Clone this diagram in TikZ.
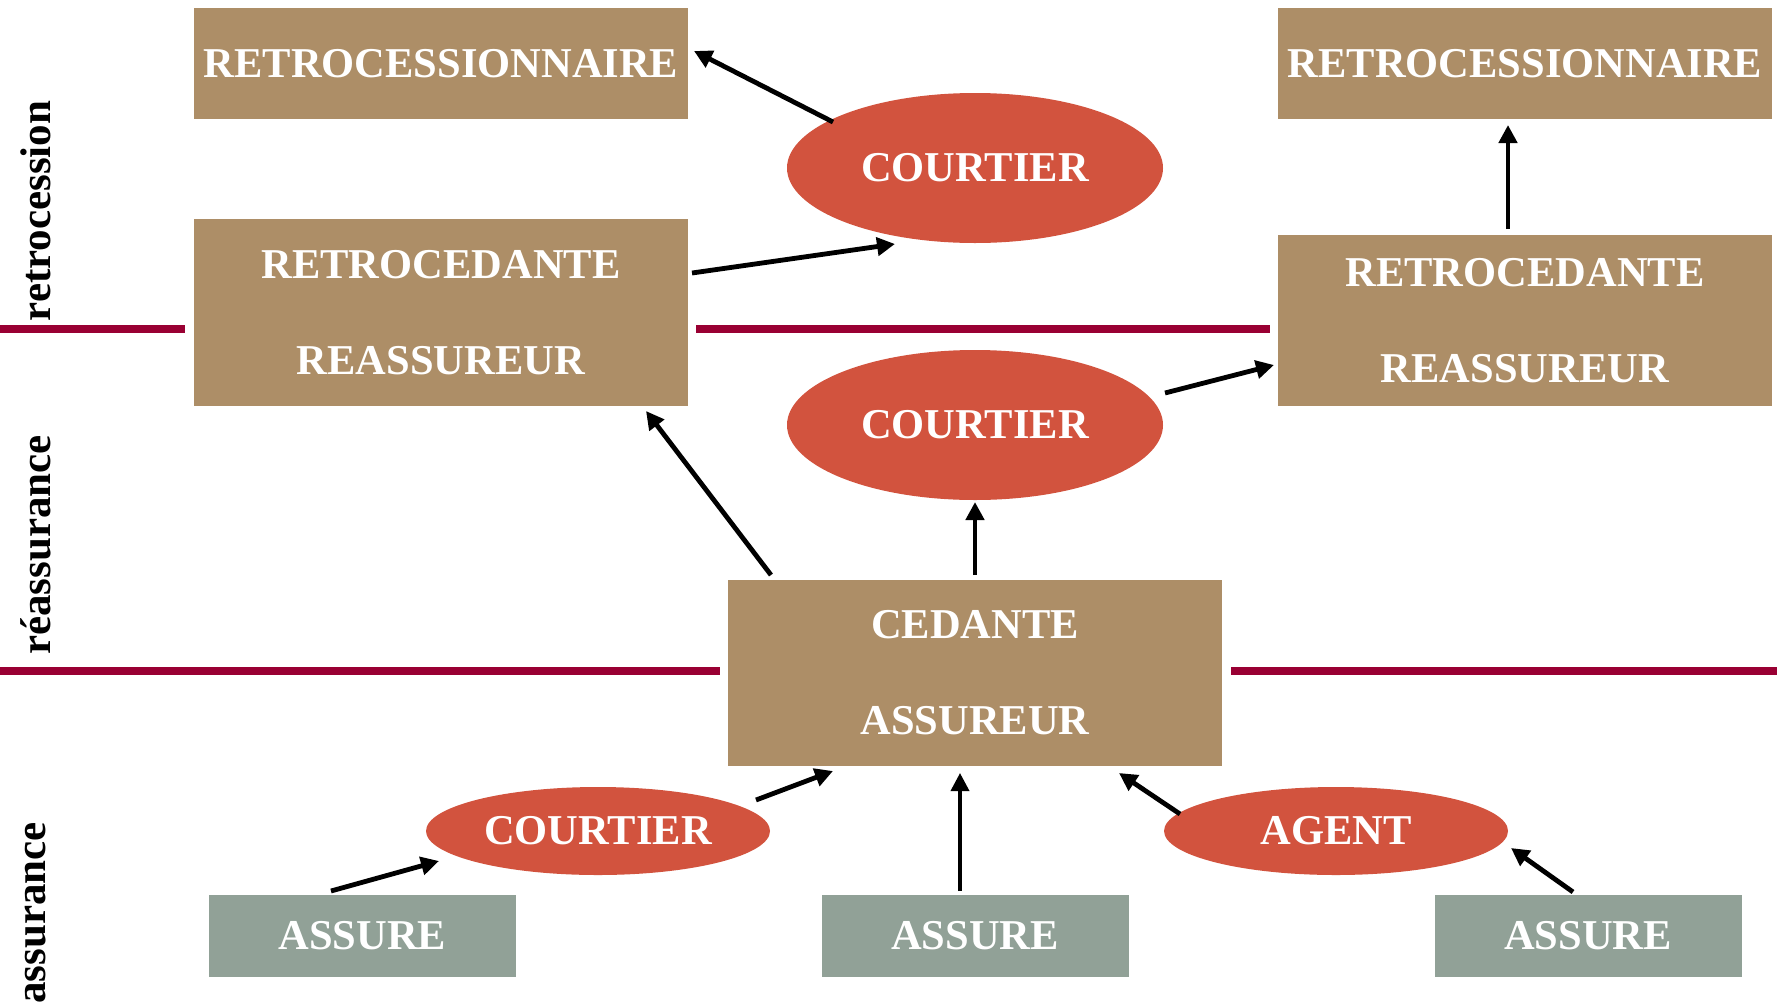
\documentclass[tikz,border=0pt]{standalone}
\usepackage{fontspec}
\setmainfont{Liberation Serif}
\usetikzlibrary{arrows.meta,shapes.geometric}
\definecolor{tan}{RGB}{173,142,103}
\definecolor{brick}{RGB}{210,83,62}
\definecolor{sage}{RGB}{145,161,151}
\definecolor{crimson}{RGB}{153,0,51}
\tikzset{
  boxtxt/.style={text=white,font=\bfseries\fontsize{42.5}{96}\selectfont,align=center,inner sep=0pt},
  tanbox/.style={boxtxt,fill=tan,minimum width=494pt},
  greybox/.style={boxtxt,fill=sage,minimum width=307pt,minimum height=82pt},
  oval/.style={boxtxt,fill=brick,ellipse},
  sep/.style={draw=crimson,line width=8pt},
  flow/.style={-{Triangle[length=18pt,width=18pt]},line width=4.8pt,black},
  side/.style={font=\bfseries\fontsize{43}{48}\selectfont,rotate=90,inner sep=0pt}
}
\begin{document}
\begin{tikzpicture}[x=1pt,y=-1pt]
\useasboundingbox (0,0) rectangle (1777,1007);
% separators
\draw[sep] (0,329) -- (185,329);
\draw[sep] (696,329) -- (1270,329);
\draw[sep] (0,671) -- (720,671);
\draw[sep] (1231,671) -- (1777,671);
% side labels
\node[side] (l1) at (36,211) {retrocession};
\node[side] (l2) at (36,545) {réassurance};
\node[side] (l3) at (36,913) {assurance};
% boxes
\node[tanbox,minimum height=111pt] (rl) at (441,63.5) {RETROCESSIONNAIRE};
\node[tanbox,minimum height=111pt] (rr) at (1525,63.5) {RETROCESSIONNAIRE};
\node[tanbox,minimum height=187pt] (dl) at (441,312.5) {RETROCEDANTE\\REASSUREUR};
\node[tanbox,minimum height=171pt] (dr) at (1525,320.5) {RETROCEDANTE\\REASSUREUR};
\node[tanbox,minimum height=186pt] (ce) at (975,673) {CEDANTE\\ASSUREUR};
\node[oval,minimum width=376pt,minimum height=150pt] (c1) at (975,168) {COURTIER};
\node[oval,minimum width=376pt,minimum height=150pt] (c2) at (975,425) {COURTIER};
\node[oval,minimum width=344pt,minimum height=88pt] (c3) at (598,831) {COURTIER};
\node[oval,minimum width=344pt,minimum height=88pt] (ag) at (1336,831) {AGENT};
\node[greybox] (a1) at (362.5,936) {ASSURE};
\node[greybox] (a2) at (975,936) {ASSURE};
\node[greybox] (a3) at (1588,936) {ASSURE};
% connectors
\draw[flow] ([xshift=-142pt,yshift=46pt]c1.center) -- ([xshift=253pt,yshift=12.5pt]rl.center);
\draw[flow] ([xshift=251pt,yshift=39.5pt]dl.center) -- ([xshift=-80pt,yshift=-76pt]c1.center);
\draw[flow] ([xshift=-17pt,yshift=91.5pt]dr.center) -- ([xshift=-17pt,yshift=-61.5pt]rr.center);
\draw[flow] ([xshift=190pt,yshift=32pt]c2.center) -- ([xshift=-251pt,yshift=-44.5pt]dr.center);
\draw[flow] ([yshift=98pt]ce.center) -- ([yshift=-77pt]c2.center);
\draw[flow] ([xshift=-204pt,yshift=98pt]ce.center) -- ([xshift=205pt,yshift=-98.5pt]dl.center);
\draw[flow] ([xshift=158pt,yshift=31pt]c3.center) -- ([xshift=-142pt,yshift=-98pt]ce.center);
\draw[flow] ([xshift=-31.5pt,yshift=45pt]a1.center) -- ([xshift=-159pt,yshift=-30pt]c3.center);
\draw[flow,line width=3.6pt] ([xshift=-15pt,yshift=45pt]a2.center) -- ([xshift=-15pt,yshift=-100pt]ce.center);
\draw[flow] ([xshift=-156pt,yshift=17pt]ag.center) -- ([xshift=144pt,yshift=-100pt]ce.center);
\draw[flow] ([xshift=-15pt,yshift=44pt]a3.center) -- ([xshift=175pt,yshift=-17pt]ag.center);
\end{tikzpicture}
\end{document}
